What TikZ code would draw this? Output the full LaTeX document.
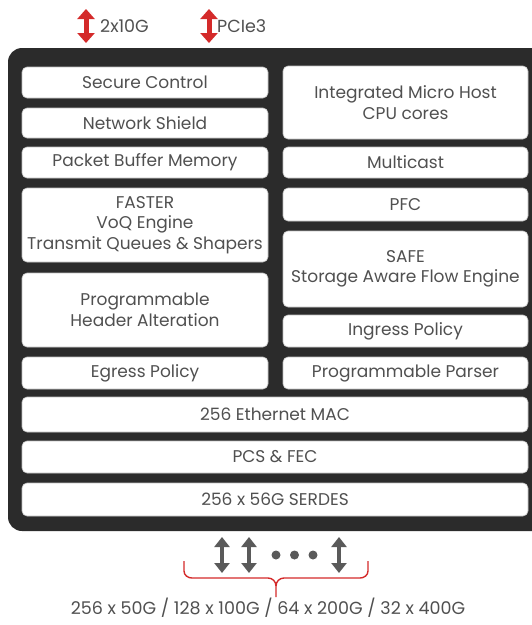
\documentclass[tikz,border=0pt]{standalone}
\usepackage{fontspec}
\setmainfont{Poppins}
\usetikzlibrary{arrows.meta}
\definecolor{frame}{HTML}{2B2B2B}
\definecolor{txt}{HTML}{505050}
\definecolor{redarr}{HTML}{D42A2A}
\definecolor{grayarr}{HTML}{5A5A5A}
\tikzset{
  box/.style={fill=white, draw=black!25, line width=0.6pt, rounded corners=5pt, inner sep=0pt,
    text=txt, align=center, font=\fontsize{17}{20.5}\selectfont},
  lcol/.style={box, minimum width=246pt},
  rcol/.style={box, minimum width=245pt},
  fcol/.style={box, minimum width=506pt},
  redarrow/.style={draw=redarr, line width=5pt, {Triangle[width=17pt,length=10pt]}-{Triangle[width=17pt,length=10pt]}},
  grayarrow/.style={draw=grayarr, line width=4.5pt, {Triangle[width=15pt,length=10pt]}-{Triangle[width=15pt,length=10pt]}},
  lbl/.style={text=txt, font=\fontsize{17.5}{20}\selectfont, inner sep=0pt},
  dot/.style={circle, fill=grayarr, minimum size=9pt, inner sep=0pt},
  brace/.style={draw=redarr, line width=1.4pt},
}
\begin{document}
\begin{tikzpicture}[x=1pt,y=-1pt]
\useasboundingbox (0,0) rectangle (532,625);
\begin{scope}
\clip (0,0) rectangle (532,625);
\fill[frame, rounded corners=14pt] (8,48) rectangle (546,531);
\end{scope}

% left column
\node[lcol, minimum height=31pt] (sc) at (145,82.5) {Secure Control};
\node[lcol, minimum height=30pt] (ns) at (145,123) {Network Shield};
\node[lcol, minimum height=31pt] (pbm) at (145,162.5) {Packet Buffer Memory};
\node[lcol, minimum height=74pt] (fast) at (145,225) {FASTER\\VoQ Engine\\Transmit Queues \& Shapers};
\node[lcol, minimum height=74pt] (pha) at (145,310) {Programmable\\Header Alteration};
\node[lcol, minimum height=32pt] (eg) at (145,373) {Egress Policy};

% right column
\node[rcol, minimum height=73pt] (imh) at (405.5,102.5) {Integrated Micro Host\\CPU cores};
\node[rcol, minimum height=31pt] (mc) at (405.5,162.5) {Multicast};
\node[rcol, minimum height=33pt] (pfc) at (405.5,204.5) {PFC};
\node[rcol, minimum height=76pt] (safe) at (405.5,269) {SAFE\\Storage Aware Flow Engine};
\node[rcol, minimum height=32pt] (ing) at (405.5,331) {Ingress Policy};
\node[rcol, minimum height=32pt] (pp) at (405.5,373) {Programmable Parser};

% full rows
\node[fcol, minimum height=35pt] (mac) at (275,414.5) {256 Ethernet MAC};
\node[fcol, minimum height=32pt] (pcs) at (275,457) {PCS \& FEC};
\node[fcol, minimum height=33pt] (serdes) at (275,499.5) {256 x 56G SERDES};

% top arrows
\coordinate (a1t) at (86,9);
\coordinate (a1b) at (86,43);
\coordinate (a2t) at (209,9);
\coordinate (a2b) at (209,43);
\draw[redarrow] (a1t) -- (a1b);
\draw[redarrow] (a2t) -- (a2b);
\node[lbl, anchor=west] (l10g) at (100,26) {2x10G};
\node[lbl, anchor=west] (lpcie) at (217,26) {PCIe3};

% bottom arrows
\coordinate (b1t) at (222,537);
\coordinate (b1b) at (222,573);
\coordinate (b2t) at (249,537);
\coordinate (b2b) at (249,573);
\coordinate (b3t) at (339,537);
\coordinate (b3b) at (339,573);
\draw[grayarrow] (b1t) -- (b1b);
\draw[grayarrow] (b2t) -- (b2b);
\draw[grayarrow] (b3t) -- (b3b);
\node[dot] (d1) at (276,555) {};
\node[dot] (d2) at (294.5,555) {};
\node[dot] (d3) at (313,555) {};

% brace
\coordinate (brl) at (184,561);
\coordinate (brr) at (368,561);
\coordinate (brm) at (276,586);
\coordinate (brtip) at (276,597);
\draw[brace] (brl) -- (184,571) to[out=-90,in=180] (192,578) -- (268,578) to[out=0,in=90] (brm) -- (brtip);
\draw[brace] (brr) -- (368,571) to[out=-90,in=0] (360,578) -- (284,578) to[out=180,in=90] (brm);

\node[lbl] (speeds) at (268,608) {256 x 50G / 128 x 100G / 64 x 200G / 32 x 400G};
\end{tikzpicture}
\end{document}
